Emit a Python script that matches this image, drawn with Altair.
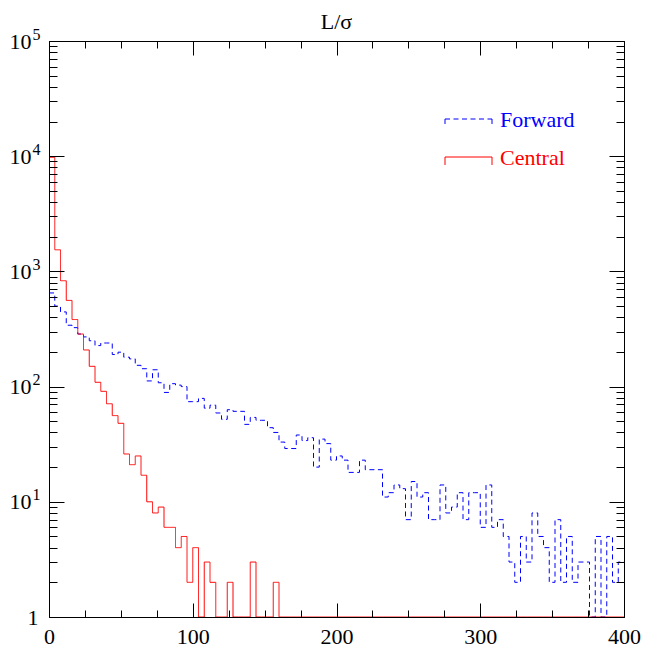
import altair as alt
import pandas as pd

## L/sigma for the two samples, 100 bins of width 4 between 0 and 400
## counts (empty bins = 0)
bin_lo = list(range(0, 400, 4))

forward = [
    650, 500, 445, 341, 325, 286, 270, 250, 227, 239,
    239, 190, 199, 180, 174, 153, 143, 112, 140, 108,
    89, 106, 103, 100, 74, 74, 79, 65, 69, 59,
    52, 63, 61, 61, 47, 54, 51, 51, 44, 40,
    33, 29, 29, 38, 34, 36, 20, 35, 32, 23,
    25, 23, 18, 18, 23, 19, 19, 19, 11, 12,
    14, 13, 7, 15, 11, 12, 7, 7, 14, 8,
    9, 12, 7, 12, 12, 6, 14, 6, 7, 5,
    3, 2, 5, 3, 8, 5, 4, 2, 7, 2,
    5, 2, 3, 3, 0, 5, 0, 5, 2, 3,
]
central = [
    9800, 1540, 830, 560, 382, 286, 208, 150, 109, 91,
    71, 56, 48, 26, 21, 25, 17, 10, 8, 9,
    6, 6, 4, 5, 2, 4, 0, 3, 2, 0,
    0, 2, 0, 0, 0, 3, 0, 0, 0, 2,
    0, 0, 0, 0, 0, 0, 0, 0, 0, 0,
    0, 0, 0, 0, 0, 0, 0, 0, 0, 0,
    0, 0, 0, 0, 0, 0, 0, 0, 0, 0,
    0, 0, 0, 0, 0, 0, 0, 0, 0, 0,
    0, 0, 0, 0, 0, 0, 0, 0, 0, 0,
    0, 0, 0, 0, 0, 0, 0, 0, 0, 0,
]

names = ["Forward", "Central"]
colors = ["blue", "red"]
dashes = [[5, 3.5], [1, 0]]
title = "L/σ"

x_major = [0, 100, 200, 300, 400]
x_minor = list(range(0, 401, 25))
y_major = [1, 10, 100, 1000, 10000, 100000]
y_minor = [m * 10 ** k for k in range(5) for m in range(2, 10)]

rows = []
for name, counts in zip(names, [forward, central]):
    # repeat the last bin at x=400 so the step line closes it
    for x, c in zip(bin_lo + [400], counts + counts[-1:]):
        rows.append({"series": name, "x": x, "count": c})
df = pd.DataFrame(rows)
## empty bins sit on the bottom edge of the log frame
df["shown"] = df["count"].clip(lower=1)

W, H = 575, 576
serif = "Liberation Serif"

x_scale = alt.Scale(domain=[0, 400], nice=False, zero=False)
y_scale = alt.Scale(type="log", domain=[1, 100000], nice=False)


def ax(orient, values, size=0, offset=0, domain=False, **kw):
    return alt.Axis(orient=orient, offset=offset, values=values,
                    ticks=size > 0, tickSize=size, tickColor="black",
                    domain=domain, domainColor="black", grid=False,
                    title=None, zindex=1, **kw)


def lab(size=22):
    return dict(labels=True, labelFont=serif, labelFontSize=size,
                labelColor="black")


## outer axes carry the labels and the frame, the others only inward ticks
## the y labels are "1", then "10" with its exponent as a separate raised label
x_axes = [
    ax("bottom", x_major, domain=True, labelPadding=9, labelFlush=False,
       **lab()),
    ax("top", x_major, 14, -H, labels=False),
    ax("top", x_minor, 7, -H, labels=False),
    ax("bottom", x_major, 14, -H, domain=True, labels=False),
    ax("bottom", x_minor, 7, -H, labels=False),
    None,
    None,
]
y_axes = [
    ax("left", y_major[:1], domain=True, labelPadding=11,
       labelExpr="'1'", **lab()),
    ax("right", y_major, 15, -W, labels=False),
    ax("right", y_minor, 8, -W, labels=False),
    ax("left", y_major, 15, -W, domain=True, labels=False),
    ax("left", y_minor, 8, -W, labels=False),
    ax("left", y_major[1:], labelPadding=18, labelExpr="'10'", **lab()),
    ax("left", y_major[1:], labelPadding=9, labelOffset=-7,
       labelExpr="'' + round(log(datum.value) / LN10)", **lab(16)),
]

layers = []
for i in range(len(x_axes)):
    k = i if i < 2 else 1
    base = alt.Chart(df).transform_filter(alt.datum.series == names[k])
    if i < 2:
        mark = base.mark_line(interpolate="step-after", strokeWidth=1,
                              color=colors[k], strokeDash=dashes[k])
    else:
        mark = base.mark_line(interpolate="step-after", strokeOpacity=0)
    layers.append(mark.encode(
        x=alt.X("x:Q", scale=x_scale, axis=x_axes[i]),
        y=alt.Y("shown:Q", scale=y_scale, axis=y_axes[i]),
    ))

## legend in the upper right, drawn like the ROOT pad legend
leg_y = [78, 116]
for k, name in enumerate(names):
    one = alt.Chart(pd.DataFrame({"name": [name]}))
    y0 = leg_y[k]
    line_style = dict(color=colors[k], strokeWidth=1, strokeDash=dashes[k])
    layers.append(one.mark_rule(**line_style).encode(
        x=alt.value(W - 179), x2=alt.value(W - 132), y=alt.value(y0)))
    for xe in (W - 179, W - 132):
        layers.append(one.mark_rule(**line_style).encode(
            x=alt.value(xe), y=alt.value(y0), y2=alt.value(y0 + 8)))
    layers.append(one.mark_text(align="left", baseline="alphabetic",
                                font=serif, fontSize=22,
                                color=colors[k]).encode(
        x=alt.value(W - 124), y=alt.value(y0 + 8), text="name:N"))

## pad title, centred over the frame
layers.append(alt.Chart(pd.DataFrame({"t": [title]})).mark_text(
    align="center", baseline="alphabetic", font=serif, fontSize=22,
    color="black").encode(x=alt.value(W / 2), y=alt.value(-12), text="t:N"))

chart = alt.layer(*layers).resolve_axis(
    x="independent", y="independent"
).properties(
    width=W,
    height=H,
    autosize=alt.AutoSizeParams(type="none"),
    padding={"left": 41, "top": 33, "right": 17, "bottom": 31},
    background="white",
).configure_view(stroke=None)

chart.save("out.html", embed_options={"renderer": "svg", "actions": False})
